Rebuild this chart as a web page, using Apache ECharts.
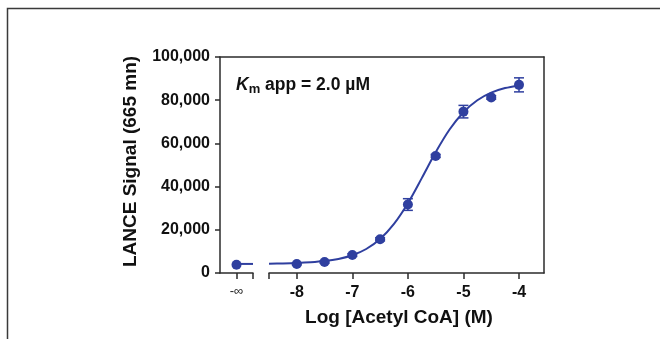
<!DOCTYPE html>
<html><head><meta charset="utf-8">
<script src="https://cdn.jsdelivr.net/npm/echarts@6/dist/echarts.min.js"></script>
<style>html,body{margin:0;padding:0;background:#fff}#c{width:660px;height:339px}</style>
</head><body><div id="c"></div>
<script>
// ---- data ----
const xTickValues = [-8, -7, -6, -5, -4];
const yTickValues = [0, 20000, 40000, 60000, 80000, 100000];
const logConc  = [-8, -7.5, -7, -6.5, -6, -5.5, -5, -4.5, -4];
const signal   = [4170, 5100, 8300, 15600, 31700, 54200, 74700, 81300, 87100];
const sem      = [400, 500, 600, 700, 2700, 700, 2900, 800, 3250];
const zeroConcLabel = '-∞';
const zeroConcSignal = 3850;
// fitted curve
const fitLog    = [-8.5, -8.25, -8, -7.75, -7.5, -7.25, -7, -6.75, -6.5, -6.25, -6, -5.75, -5.5, -5.25, -5, -4.75, -4.5, -4.25, -4];
const fitSignal = [4330, 4440, 4620, 4950, 5520, 6510, 8220, 11110, 15730, 22730, 32300, 43930, 55880, 66410, 74450, 80000, 83500, 85610, 86850];
const fitBottom = 4200;
const annotation = { k: 'K', sub: 'm', rest: ' app = 2.0 µM' };
const xTitle = 'Log [Acetyl CoA] (M)';
const yTitle = 'LANCE Signal (665 mn)';

// ---- styling ----
const BLUE = '#2f3f9f';
const AXIS = '#2b2b2b';
const FONT = '"Liberation Sans", Arial, Helvetica, sans-serif';
const TOP = 57, BOTTOM = 339 - 273;
const yMin = yTickValues[0], yMax = yTickValues[yTickValues.length - 1];

const axisLine = { show: true, onZero: false, lineStyle: { color: AXIS, width: 1.5 } };
const hiddenY = (gi) => ({ gridIndex: gi, type: 'value', min: yMin, max: yMax, show: false, splitLine: { show: false } });
const dot = { color: BLUE, opacity: 1, borderWidth: 0 };

const chart = echarts.init(document.getElementById('c'), null, { renderer: 'canvas' });
chart.setOption({
  animation: false,
  backgroundColor: '#fff',
  textStyle: { fontFamily: FONT },
  grid: [
    { left: 220, width: 33, top: TOP, bottom: BOTTOM, containLabel: false, outerBoundsMode: 'none' },
    { left: 269, right: 116, top: TOP, bottom: BOTTOM, containLabel: false, outerBoundsMode: 'none' },
    { left: 220, right: 116, top: TOP, bottom: BOTTOM, containLabel: false, outerBoundsMode: 'none' }
  ],
  xAxis: [
    { gridIndex: 0, type: 'value', min: -1, max: 1, axisLine,
      splitLine: { show: false },
      axisTick: { show: true, length: 6, customValues: [0, 1], lineStyle: { color: AXIS, width: 1.5 } },
      axisLabel: { show: true, customValues: [0], formatter: () => zeroConcLabel, margin: 12,
        fontSize: 13, fontWeight: 'normal', color: '#222', fontFamily: FONT } },
    { gridIndex: 1, type: 'value', min: -8.5, max: -3.55, axisLine,
      splitLine: { show: false },
      axisTick: { show: true, length: 6, customValues: [-8.5].concat(xTickValues), lineStyle: { color: AXIS, width: 1.5 } },
      axisLabel: { show: true, customValues: xTickValues, formatter: v => String(v), margin: 12,
        fontSize: 16, fontWeight: 'bold', color: '#111', fontFamily: FONT },
      name: xTitle, nameLocation: 'middle', nameGap: 35,
      nameTextStyle: { fontSize: 19, fontWeight: 'bold', color: '#111', fontFamily: FONT, padding: [0, 15, 0, 0] } },
    { gridIndex: 2, type: 'value', min: 0, max: 1, position: 'top', axisLine,
      axisTick: { show: false }, axisLabel: { show: false }, splitLine: { show: false } }
  ],
  yAxis: [
    hiddenY(0),
    hiddenY(1),
    { gridIndex: 2, type: 'value', min: yMin, max: yMax, interval: 20000, position: 'left', axisLine,
      splitLine: { show: false },
      axisTick: { show: true, length: 5, lineStyle: { color: AXIS, width: 1.5 } },
      axisLabel: { show: true, margin: 10, fontSize: 16, fontWeight: 'bold', color: '#111', fontFamily: FONT,
        formatter: v => v.toLocaleString('en-US') },
      name: yTitle, nameLocation: 'middle', nameGap: 80, nameRotate: 90,
      nameTextStyle: { fontSize: 19, fontWeight: 'bold', color: '#111', fontFamily: FONT, padding: [0, 0, 0, 7] } },
    { gridIndex: 2, type: 'value', min: yMin, max: yMax, position: 'right', axisLine,
      axisTick: { show: false }, axisLabel: { show: false }, splitLine: { show: false } }
  ],
  series: [
    // -∞ segment
    { type: 'line', xAxisIndex: 0, yAxisIndex: 0, data: [[0, fitBottom], [1, fitBottom]],
      showSymbol: false, lineStyle: { color: BLUE, width: 2 }, z: 2 },
    { type: 'scatter', xAxisIndex: 0, yAxisIndex: 0, data: [[0, zeroConcSignal]],
      symbol: 'circle', symbolSize: 10, itemStyle: dot, z: 3 },
    // fitted curve
    { type: 'line', xAxisIndex: 1, yAxisIndex: 1, data: fitLog.map((x, i) => [x, fitSignal[i]]),
      smooth: 0.3, showSymbol: false, lineStyle: { color: BLUE, width: 2 }, z: 2 },
    // error bars
    { type: 'custom', xAxisIndex: 1, yAxisIndex: 1,
      data: logConc.map((x, i) => [x, signal[i] - sem[i], signal[i] + sem[i]]),
      encode: { x: 0, y: [1, 2] },
      renderItem: (params, api) => {
        const x = api.value(0);
        const lo = api.coord([x, api.value(1)]);
        const hi = api.coord([x, api.value(2)]);
        const hw = 5;
        const st = { stroke: BLUE, lineWidth: 1.5 };
        return { type: 'group', children: [
          { type: 'line', shape: { x1: lo[0], y1: lo[1], x2: hi[0], y2: hi[1] }, style: st },
          { type: 'line', shape: { x1: lo[0] - hw, y1: lo[1], x2: lo[0] + hw, y2: lo[1] }, style: st },
          { type: 'line', shape: { x1: hi[0] - hw, y1: hi[1], x2: hi[0] + hw, y2: hi[1] }, style: st }
        ] };
      }, z: 3 },
    // data points
    { type: 'scatter', xAxisIndex: 1, yAxisIndex: 1, data: logConc.map((x, i) => [x, signal[i]]),
      symbol: 'circle', symbolSize: 10, itemStyle: dot, z: 4 }
  ],
  graphic: [
    { type: 'rect', shape: { x: 7.5, y: 8.5, width: 700, height: 400 },
      style: { fill: 'none', stroke: '#3a3a3a', lineWidth: 1.5 }, silent: true },
    { type: 'text', left: 236, top: 76,
      style: {
        text: '{k|' + annotation.k + '}{m|' + annotation.sub + '}{t|' + annotation.rest + '}',
        rich: {
          k: { fontSize: 17.5, fontWeight: 'bold', fontStyle: 'italic', fontFamily: FONT, fill: '#111' },
          m: { fontSize: 13, fontWeight: 'bold', fontFamily: FONT, fill: '#111', padding: [8, 0, 0, 0] },
          t: { fontSize: 17.5, fontWeight: 'bold', fontFamily: FONT, fill: '#111' }
        }
      } }
  ]
});
</script></body></html>
